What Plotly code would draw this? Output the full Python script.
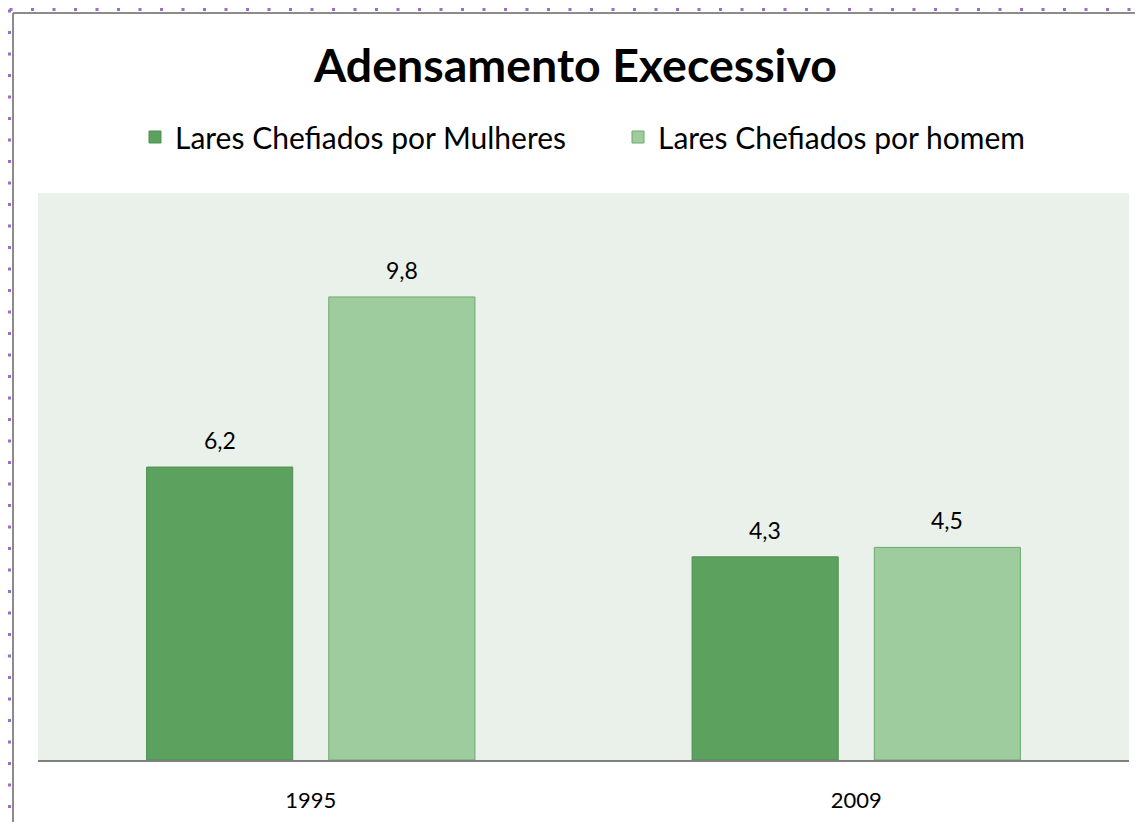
import plotly.graph_objects as go

categories = ["1995", "2009"]
series_names = ["Lares Chefiados por Mulheres", "Lares Chefiados por homem"]
mulheres = [6.2, 4.3]
homem = [9.8, 4.5]

# page is rendered with an 8px body margin; figure coordinates are offset by it
OFF = 8
W, H = 1143 - OFF, 822 - OFF
ML, MR, MT, MB = 38 - OFF, 14, 193 - OFF, 62
PW = W - ML - MR
PH = H - MT - MB

def px_x(p):  # p in page pixels
    return (p - OFF - ML) / PW

def px_y(p):
    return (H - MB - (p - OFF)) / PH

FONT = "Lato"
dark = "#5CA25E"
dark_line = "#4F8F52"
light = "#9FCC9F"
light_line = "#6BAA6C"

fig = go.Figure()
fig.add_trace(go.Bar(x=categories, y=mulheres, name=series_names[0],
                     marker=dict(color=dark, line=dict(color=dark_line, width=1))))
fig.add_trace(go.Bar(x=categories, y=homem, name=series_names[1],
                     marker=dict(color=light, line=dict(color=light_line, width=1))))

def fmt(v):
    return f"{v:.1f}".replace(".", ",")

for i, vals in enumerate([mulheres, homem]):
    off = -0.167 if i == 0 else 0.167
    for j, v in enumerate(vals):
        fig.add_annotation(x=j + off, y=v, text=fmt(v), showarrow=False,
                           yanchor="bottom", yshift=11, xref="x", yref="y",
                           font=dict(family=FONT, size=23, color="#000000"))

shapes = [
    dict(type="line", xref="paper", yref="paper", x0=px_x(13), x1=px_x(1160),
         y0=px_y(13), y1=px_y(13), line=dict(color="#8C8C8C", width=2)),
    dict(type="line", xref="paper", yref="paper", x0=px_x(13), x1=px_x(13),
         y0=px_y(13), y1=px_y(840), line=dict(color="#8C8C8C", width=2)),
    dict(type="line", xref="paper", yref="paper", x0=px_x(9.5), x1=px_x(1160),
         y0=px_y(9.5), y1=px_y(9.5), line=dict(color="#9B6BCF", width=3, dash="3px,18.5px")),
    dict(type="line", xref="paper", yref="paper", x0=px_x(9.5), x1=px_x(9.5),
         y0=px_y(9.5), y1=px_y(840), line=dict(color="#9B6BCF", width=3, dash="3px,18.5px")),
]

fig.update_layout(
    width=W, height=H,
    margin=dict(l=ML, r=MR, t=MT, b=MB, autoexpand=False),
    paper_bgcolor="#FFFFFF",
    plot_bgcolor="#EAF1EA",
    barmode="group",
    bargap=0.332,
    bargroupgap=0.198,
    separators=",.",
    font=dict(family=FONT, color="#000000"),
    title=dict(text="<b>Adensamento Execessivo</b>", x=0.5, xref="container", xanchor="center",
               y=1 - (66 - OFF) / H, yanchor="middle",
               font=dict(family=FONT, size=46.5, color="#000000")),
    legend=dict(orientation="h", x=px_x(135), xanchor="left", y=px_y(137), yanchor="middle",
                font=dict(family=FONT, size=30, color="#000000"),
                entrywidth=438, entrywidthmode="pixels", itemclick=False,
                bgcolor="rgba(0,0,0,0)", tracegroupgap=0),
    xaxis=dict(showline=True, linecolor="#808080", linewidth=1.5, ticks="",
               tickfont=dict(family=FONT, size=22, color="#000000"),
               ticklabelstandoff=20, showgrid=False, zeroline=False),
    yaxis=dict(range=[0, 12], visible=False, showgrid=False, zeroline=False),
    shapes=shapes,
)

fig.write_html("out.html")
